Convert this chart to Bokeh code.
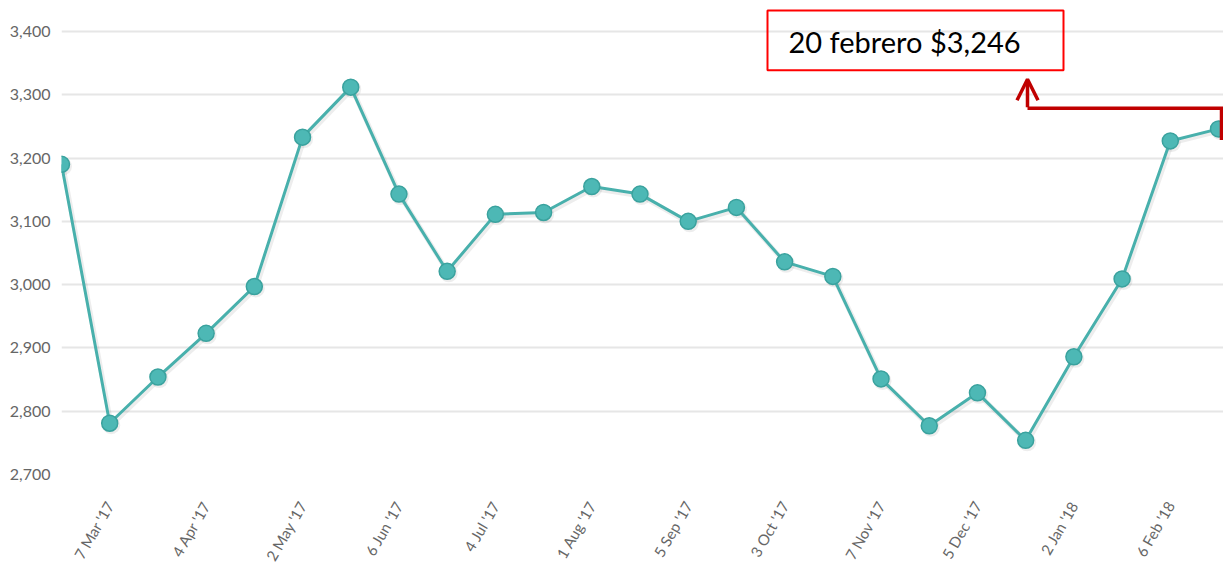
from bokeh.plotting import figure
from bokeh.models import (Range1d, FixedTicker, SingleIntervalTicker, NumeralTickFormatter,
                          BoxAnnotation, Label, Arrow, OpenHead, ColumnDataSource)
from bokeh.embed import file_html
from bokeh.resources import INLINE

# ---- data ----
prices = [3190, 2781, 2854, 2923, 2997, 3233, 3312, 3143, 3021, 3111, 3114, 3155, 3143,
          3100, 3122, 3036, 3013, 2851, 2777, 2829, 2754, 2886, 3009, 3227, 3246]
tick_labels = ["7 Mar '17", "4 Apr '17", "2 May '17", "6 Jun '17", "4 Jul '17", "1 Aug '17",
               "5 Sep '17", "3 Oct '17", "7 Nov '17", "5 Dec '17", "2 Jan '18", "6 Feb '18"]
tick_positions = [1, 3, 5, 7, 9, 11, 13, 15, 17, 19, 21, 23]
callout_text = "20 febrero $3,246"
y_min, y_max_grid, y_step = 2700, 3400, 100

# ---- layout ----
W, H = 1223, 571
BL, BR, BT = 61, 0, 0
grid_top_px, grid_bottom_px = 31, 475      # pixel rows of the 3,400 and 2,700 lines
BB = H - grid_bottom_px
frame_w = W - BL - BR
frame_h = H - BT - BB
n = len(prices)
px_per_x = (1218 - BL) / (n - 1)
px_per_y = (grid_bottom_px - grid_top_px) / (y_max_grid - y_min)
x_end = frame_w / px_per_x
y_top = y_min + frame_h / px_per_y


def xd(fx):  # figure px -> data x
    return (fx - BL) / px_per_x


def yd(fy):  # figure px (from top) -> data y
    return y_top - (fy - BT) / px_per_y


xs = list(range(n))
src = ColumnDataSource(dict(x=xs, y=prices))

p = figure(width=W, height=H, output_backend="svg", toolbar_location=None,
           x_range=Range1d(0, x_end), y_range=Range1d(y_min, y_top),
           min_border_left=BL, min_border_right=BR, min_border_top=BT, min_border_bottom=BB)
p.outline_line_color = None
p.background_fill_color = "white"
p.border_fill_color = "white"

# grid
p.xgrid.grid_line_color = None
p.ygrid.grid_line_color = "#e6e6e6"
p.ygrid.grid_line_width = 2

# y axis
p.yaxis.ticker = SingleIntervalTicker(interval=y_step, num_minor_ticks=0)
p.yaxis.formatter = NumeralTickFormatter(format="0,0")
p.yaxis.axis_line_color = None
p.yaxis.major_tick_line_color = None
p.yaxis.minor_tick_line_color = None
p.yaxis.major_label_standoff = 5
p.yaxis.major_label_text_font = "Lato"
p.yaxis.major_label_text_font_size = "16px"
p.yaxis.major_label_text_color = "#666666"

# x axis
p.xaxis.ticker = FixedTicker(ticks=tick_positions)
p.xaxis.major_label_overrides = {t: l for t, l in zip(tick_positions, tick_labels)}
p.xaxis.major_label_orientation = 1.047
p.xaxis.axis_line_color = None
p.xaxis.major_tick_line_color = None
p.xaxis.minor_tick_line_color = None
p.xaxis.major_label_standoff = 22
p.xaxis.major_label_text_font = "Lato"
p.xaxis.major_label_text_font_size = "15px"
p.xaxis.major_label_text_color = "#666666"

# shadow
sh_dx, sh_dy = 1.5 / px_per_x, 2.0 / px_per_y
p.line([x + sh_dx for x in xs], [v - sh_dy for v in prices], line_color="black",
       line_alpha=0.07, line_width=5)
p.scatter([x + sh_dx for x in xs], [v - sh_dy for v in prices], size=18,
          fill_color="black", fill_alpha=0.07, line_color=None)

# series
p.line("x", "y", source=src, line_color="#48B0AC", line_width=3)
p.scatter("x", "y", source=src, size=16, fill_color="#4DB8B5", line_color="#3AA29E",
          line_width=1.5)

# callout box and text
p.add_layout(BoxAnnotation(left=xd(767), right=xd(1063), top=yd(10), bottom=yd(70),
                           fill_color=None, fill_alpha=0, line_color="#ff0000",
                           line_alpha=1.0, line_width=2))
p.add_layout(Label(x=xd(788), y=yd(41), text=callout_text, text_font="Lato",
                   text_font_size="29px", text_color="black", text_baseline="middle",
                   text_align="left"))

# red connector arrow from last point to callout
red = "#C00000"
last = n - 1
ax = last + 3 / px_per_x
corner_y = yd(108)
left_x = xd(1027)
p.line([ax, ax, left_x], [prices[last] - 11 / px_per_y, corner_y, corner_y],
       line_color=red, line_width=3.5, line_join="miter")
p.add_layout(Arrow(x_start=left_x, y_start=corner_y + 1 / px_per_y, x_end=left_x, y_end=yd(79),
                   line_color=red, line_width=3.5,
                   end=OpenHead(size=21, line_color=red, line_width=3.5)))

open("out.html", "w").write(file_html(p, INLINE))
